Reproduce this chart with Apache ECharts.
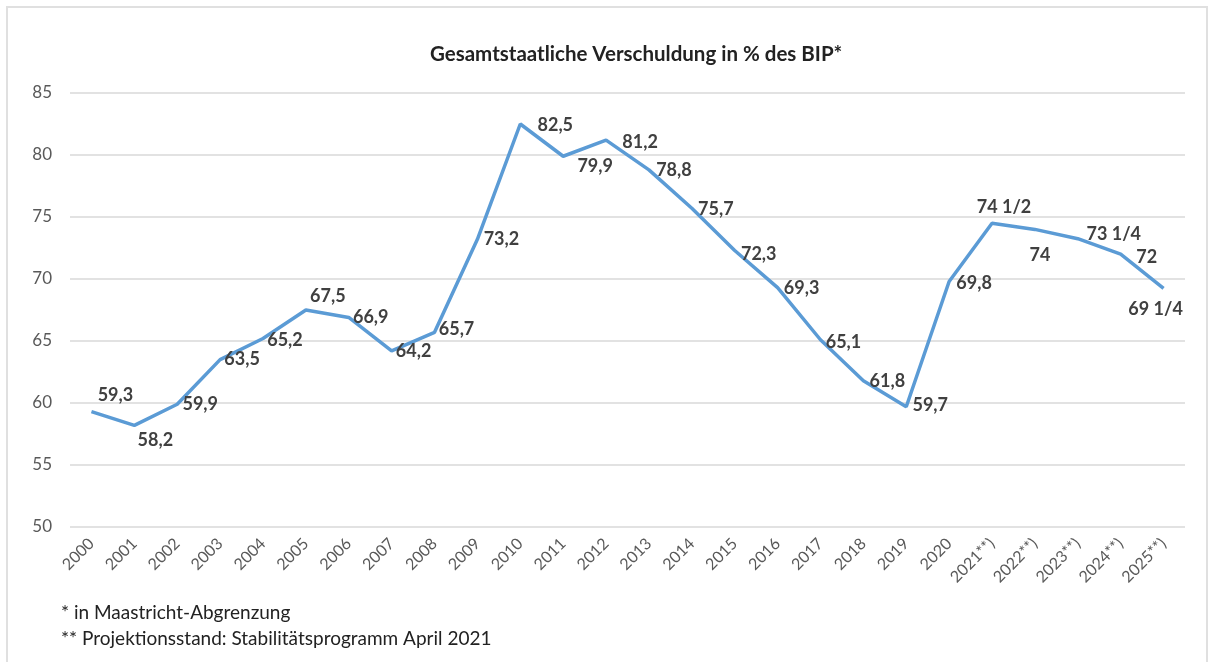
<!DOCTYPE html>
<html>
<head>
<meta charset="utf-8">
<script src="https://cdn.jsdelivr.net/npm/echarts@6/dist/echarts.min.js"></script>
<style>
html, body { margin: 0; padding: 0; background: #fff; }
#chart { width: 1211px; height: 662px; }
</style>
</head>
<body>
<div id="chart"></div>
<script>
// Jahre
var years = ['2000','2001','2002','2003','2004','2005','2006','2007','2008','2009',
	'2010','2011','2012','2013','2014','2015','2016','2017','2018','2019',
	'2020','2021**)','2022**)','2023**)','2024**)','2025**)'];

// Schuldenquote in % des BIP
var debtRatio = [59.3, 58.2, 59.9, 63.5, 65.2, 67.5, 66.9, 64.2, 65.7, 73.2,
	82.5, 79.9, 81.2, 78.8, 75.7, 72.3, 69.3, 65.1, 61.8, 59.7,
	69.8, 74.5, 74, 73.25, 72, 69.25];

// Beschriftung wie im Original
var labelText = ['59,3','58,2','59,9','63,5','65,2','67,5','66,9','64,2','65,7','73,2',
	'82,5','79,9','81,2','78,8','75,7','72,3','69,3','65,1','61,8','59,7',
	'69,8','74 1/2','74','73 1/4','72','69 1/4'];

var yTicks = [50, 55, 60, 65, 70, 75, 80, 85];

// Label-Versatz je Punkt (nur Darstellung)
var labelOffset = [
	[24,-16],[21,15],[23,0],[22,0],[22,2],[22,-14],[22,0],[22,0],[22,-3],[24,0],
	[35,1],[32,10],[34,2],[25,0],[24,1],[24,4],[24,1],[23,2],[24,1],[24,-2],
	[25,2],[12,-16],[5,26],[36,-5],[26,3],[-8,21]
];

var seriesData = [];
for( var i = 0; i < debtRatio.length; i++ )
{
	seriesData.push({
		value: debtRatio[i],
		label: {
			formatter: labelText[i],
			offset: labelOffset[i]
		}
	});
}

var chart = echarts.init( document.getElementById('chart') );
chart.setOption({
	animation: false,
	textStyle: { fontFamily: 'Lato' },
	title: {
		text: 'Gesamtstaatliche Verschuldung in % des BIP*',
		left: 425,
		top: 39,
		textStyle: { fontFamily: 'Lato', fontSize: 20.5, fontWeight: 'bold', color: '#222' }
	},
	graphic: [
		{
			type: 'rect',
			shape: { x: 7, y: 7, width: 1200, height: 700 },
			style: { fill: 'none', stroke: '#e0e0e0', lineWidth: 2 },
			silent: true
		},
		{
			type: 'text', left: 61, top: 603,
			style: { text: '* in Maastricht-Abgrenzung', fontFamily: 'Lato', fontSize: 19, fill: '#222' }
		},
		{
			type: 'text', left: 61, top: 629,
			style: { text: '** Projektionsstand: Stabilitätsprogramm April 2021', fontFamily: 'Lato', fontSize: 19, fill: '#222' }
		}
	],
	grid: { left: 70, right: 26, top: 93, bottom: 135 },
	xAxis: {
		type: 'category',
		data: years,
		boundaryGap: true,
		axisLine: { show: false },
		axisTick: { show: false },
		axisLabel: {
			rotate: 45,
			interval: 0,
			margin: 14,
			fontSize: 16,
			color: '#595959',
			fontFamily: 'Lato'
		}
	},
	yAxis: {
		type: 'value',
		min: yTicks[0],
		max: yTicks[yTicks.length - 1],
		interval: 5,
		axisLine: { show: false },
		axisTick: { show: false },
		axisLabel: { fontSize: 17, color: '#595959', margin: 18, fontFamily: 'Lato' },
		splitLine: { lineStyle: { color: '#d9d9d9', width: 1.5 } }
	},
	series: [{
		type: 'line',
		data: seriesData,
		showSymbol: true,
		symbol: 'circle',
		symbolSize: 0,
		lineStyle: { color: '#5b9bd5', width: 3.5 },
		itemStyle: { color: '#5b9bd5' },
		label: {
			show: true,
			position: 'inside',
			fontSize: 18,
			fontWeight: 'bold',
			color: '#404040',
			fontFamily: 'Lato'
		}
	}]
});
</script>
</body>
</html>
